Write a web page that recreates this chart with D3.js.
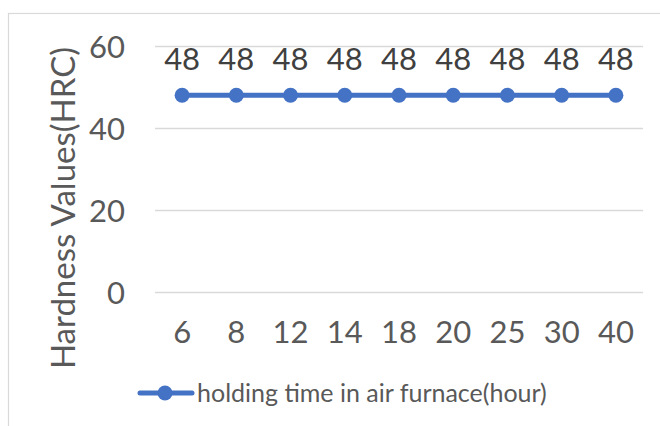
<!DOCTYPE html>
<html>
<head>
<meta charset="utf-8">
<script src="https://cdn.jsdelivr.net/npm/d3@7"></script>
<style>
  html, body { margin: 0; padding: 0; background: #fff; }
  svg { display: block; font-family: Lato, "Open Sans", sans-serif; }
</style>
</head>
<body>
<svg id="chart" width="660" height="426"></svg>
<script>
// Holding time categories (hours) and measured hardness (HRC)
const holdingHours = ["6", "8", "12", "14", "18", "20", "25", "30", "40"];
const hardnessValues = [48, 48, 48, 48, 48, 48, 48, 48, 48];
const yTicks = [0, 20, 40, 60];
const seriesName = "holding time in air furnace(hour)";
const yTitle = "Hardness Values(HRC)";

const svg = d3.select("#chart");
const textColor = "#595959";
const gridColor = "#d9d9d9";
const lineColor = "#4472c4";

// chart frame
svg.append("rect")
  .attr("x", 8.5).attr("y", 13.5)
  .attr("width", 700).attr("height", 500)
  .attr("fill", "none").attr("stroke", gridColor).attr("stroke-width", 1.2);

const plot = { left: 155, right: 643, top: 46, bottom: 292 };

const x = d3.scaleBand().domain(holdingHours).range([plot.left, plot.right]);
const y = d3.scaleLinear().domain([0, 60]).range([plot.bottom, plot.top]);

// horizontal gridlines + y labels
const yAxis = d3.axisLeft(y).tickValues(yTicks).tickSize(-(plot.right - plot.left)).tickPadding(30);
const gy = svg.append("g").attr("transform", `translate(${plot.left},0)`).call(yAxis);
gy.select(".domain").remove();
gy.selectAll(".tick line").attr("stroke", gridColor).attr("stroke-width", 1.5);
gy.selectAll(".tick text")
  .attr("fill", textColor).attr("font-size", 31).attr("font-family", "Lato, sans-serif")
  .attr("x", -30).attr("dy", "0.36em");

// x labels
const xAxis = d3.axisBottom(x).tickSize(0).tickPadding(0);
const gx = svg.append("g").attr("transform", `translate(0,${plot.bottom})`).call(xAxis);
gx.select(".domain").remove();
gx.selectAll(".tick text")
  .attr("fill", textColor).attr("font-size", 31).attr("font-family", "Lato, sans-serif")
  .attr("y", 51).attr("dy", 0);

// y-axis title
svg.append("text")
  .attr("transform", "translate(75,208) rotate(-90)")
  .attr("text-anchor", "middle")
  .attr("fill", textColor).attr("font-size", 33)
  .text(yTitle);

// series line
const cx = d => x(d) + x.bandwidth() / 2;
const pts = holdingHours.map((h, i) => [cx(h), y(hardnessValues[i])]);
svg.append("path")
  .attr("d", d3.line()(pts))
  .attr("fill", "none").attr("stroke", lineColor).attr("stroke-width", 5)
  .attr("stroke-linecap", "round");

svg.append("g").selectAll("circle").data(pts).join("circle")
  .attr("cx", d => d[0]).attr("cy", d => d[1]).attr("r", 7.5)
  .attr("fill", lineColor);

// data labels
svg.append("g").selectAll("text").data(holdingHours).join("text")
  .attr("x", d => cx(d))
  .attr("y", (d, i) => y(hardnessValues[i]) - 25)
  .attr("text-anchor", "middle")
  .attr("fill", "#404040").attr("font-size", 31)
  .text((d, i) => hardnessValues[i]);

// legend
const lg = svg.append("g").attr("transform", "translate(0,393)");
lg.append("line").attr("x1", 140).attr("x2", 192).attr("y1", 0).attr("y2", 0)
  .attr("stroke", lineColor).attr("stroke-width", 5).attr("stroke-linecap", "round");
lg.append("circle").attr("cx", 165).attr("cy", 0).attr("r", 7.5).attr("fill", lineColor);
lg.append("text").attr("x", 197).attr("y", 0).attr("dy", "0.35em")
  .attr("fill", textColor).attr("font-size", 25)
  .text(seriesName);
</script>
</body>
</html>
